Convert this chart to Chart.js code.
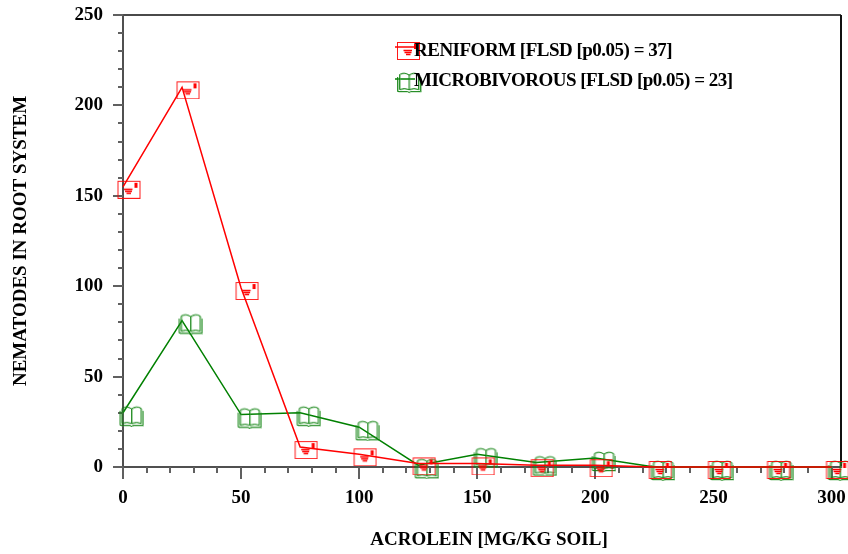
<!DOCTYPE html>
<html>
<head>
<meta charset="utf-8">
<script src="https://cdn.jsdelivr.net/npm/chart.js@4.4.0/dist/chart.umd.min.js"></script>
<style>
  html, body { margin: 0; padding: 0; background: #ffffff; }
  #wrap { width: 848px; height: 554px; position: relative; }
</style>
</head>
<body>
<div id="wrap"><canvas id="chart" width="848" height="554"></canvas></div>
<script>
// Acrolein dose (mg/kg soil) and nematode counts per root system
const acroleinDoses = [0, 25, 50, 75, 100, 125, 150, 175, 200, 225, 250, 275, 300];
const reniformCounts = [155, 210, 99, 11, 7, 2, 2, 1, 1, 0, 0, 0, 0];
const microbivorousCounts = [30, 81, 29, 30, 22, 1, 7, 2.5, 5, 0, 0, 0, 0];
const seriesNames = ['RENIFORM [FLSD [p0.05) = 37]', 'MICROBIVOROUS [FLSD [p0.05) = 23]'];
const xTickValues = [0, 50, 100, 150, 200, 250, 300];
const yTickValues = [0, 50, 100, 150, 200, 250];
const xAxisTitle = 'ACROLEIN [MG/KG SOIL]';
const yAxisTitle = 'NEMATODES IN ROOT SYSTEM';

const SERIF = "'Liberation Serif', 'Times New Roman', serif";

// Envelope glyph (23x18 box); the data point sits near its upper-left corner
function drawEnvelope(ctx, ox, oy) {
  ctx.save();
  ctx.strokeStyle = 'rgba(255,0,0,0.9)';
  ctx.lineWidth = 1;
  ctx.strokeRect(ox + 0.5, oy + 0.5, 22, 17);
  ctx.fillStyle = '#ff0000';
  ctx.fillRect(ox + 17, oy + 2, 3, 5);
  ctx.strokeStyle = '#ff0000';
  ctx.lineWidth = 1.3;
  ctx.beginPath();
  ctx.moveTo(ox + 6.5, oy + 8.5); ctx.lineTo(ox + 15, oy + 8.5);
  ctx.moveTo(ox + 7.5, oy + 10.5); ctx.lineTo(ox + 14.5, oy + 10.5);
  ctx.moveTo(ox + 9, oy + 12.5); ctx.lineTo(ox + 13.5, oy + 12.5);
  ctx.stroke();
  ctx.restore();
}

// Open-book glyph (24x21 box)
function bookPath(ctx, ox, oy) {
  ctx.beginPath();
  // cover
  ctx.moveTo(ox + 0.5, oy + 5);
  ctx.lineTo(ox + 0.5, oy + 19.5);
  ctx.lineTo(ox + 10.5, oy + 19.5);
  ctx.lineTo(ox + 12, oy + 20.5);
  ctx.lineTo(ox + 13.5, oy + 19.5);
  ctx.lineTo(ox + 23.5, oy + 19.5);
  ctx.lineTo(ox + 23.5, oy + 5);
  // left page
  ctx.moveTo(ox + 12, oy + 17.5);
  ctx.lineTo(ox + 12, oy + 3);
  ctx.quadraticCurveTo(ox + 7, oy - 0.5, ox + 2.5, oy + 2.5);
  ctx.lineTo(ox + 2.5, oy + 17.5);
  ctx.quadraticCurveTo(ox + 7, oy + 15.5, ox + 12, oy + 17.5);
  // right page
  ctx.moveTo(ox + 12, oy + 3);
  ctx.quadraticCurveTo(ox + 17, oy - 0.5, ox + 21.5, oy + 2.5);
  ctx.lineTo(ox + 21.5, oy + 17.5);
  ctx.quadraticCurveTo(ox + 17, oy + 15.5, ox + 12, oy + 17.5);
  ctx.stroke();
}
function drawBook(ctx, ox, oy) {
  ctx.save();
  ctx.lineWidth = 1;
  ctx.strokeStyle = 'rgba(70,170,70,0.5)';
  bookPath(ctx, ox + 1, oy + 0.5);
  ctx.strokeStyle = 'rgba(10,125,10,0.85)';
  bookPath(ctx, ox, oy);
  ctx.restore();
}

// Point-style canvases, centred on the data point
function makeEnvelopeStyle() {
  const c = document.createElement('canvas');
  c.width = 36; c.height = 24;
  drawEnvelope(c.getContext('2d'), 18 - 5.5, 12 - 6);
  return c;
}
function makeBookStyle() {
  const c = document.createElement('canvas');
  c.width = 42; c.height = 28;
  drawBook(c.getContext('2d'), 21 - 3.5, 14 - 7);
  return c;
}
const envelopeStyle = makeEnvelopeStyle();
const bookStyle = makeBookStyle();

const AREA = { left: 123, top: 15, right: 841, bottom: 467 };

// Keep the plot area fixed: drop the label overhang padding the scales ask for
function noOverhang(s) {
  s.paddingTop = 0; s.paddingBottom = 0; s.paddingLeft = 0; s.paddingRight = 0;
}

// Axes, frame, minor ticks, titles and legend
const decorations = {
  id: 'decorations',
  beforeDatasetsDraw(chart) {
    const ctx = chart.ctx;
    const xs = chart.scales.x, ys = chart.scales.y;
    const a = chart.chartArea;
    ctx.save();
    // frame
    ctx.lineWidth = 2;
    ctx.strokeStyle = '#4a4a4a';
    ctx.beginPath(); ctx.moveTo(a.left, a.top); ctx.lineTo(a.right, a.top); ctx.stroke();
    ctx.strokeStyle = '#111111';
    ctx.beginPath(); ctx.moveTo(a.right, a.top); ctx.lineTo(a.right, a.bottom); ctx.stroke();
    // axis lines
    ctx.strokeStyle = '#505050';
    ctx.beginPath(); ctx.moveTo(a.left, a.top - 1); ctx.lineTo(a.left, a.bottom + 1); ctx.stroke();
    ctx.beginPath(); ctx.moveTo(a.left - 1, a.bottom); ctx.lineTo(a.right + 1, a.bottom); ctx.stroke();
    // x ticks (outside, downward)
    ctx.strokeStyle = '#606060';
    ctx.lineWidth = 2;
    for (let v = 0; v <= 300; v += 10) {
      const px = Math.round(xs.getPixelForValue(v));
      const len = (v % 50 === 0) ? 12 : 6;
      ctx.beginPath(); ctx.moveTo(px, a.bottom); ctx.lineTo(px, a.bottom + len); ctx.stroke();
    }
    // y ticks (outside, leftward)
    for (let v = 0; v <= 250; v += 10) {
      const py = Math.round(ys.getPixelForValue(v));
      const len = (v % 50 === 0) ? 10 : 5;
      ctx.beginPath(); ctx.moveTo(a.left, py); ctx.lineTo(a.left - len, py); ctx.stroke();
    }
    ctx.restore();
  },
  afterDraw(chart) {
    const ctx = chart.ctx;
    ctx.save();
    ctx.fillStyle = '#000000';
    ctx.font = 'bold 19px ' + SERIF;
    ctx.textAlign = 'center';
    ctx.textBaseline = 'middle';
    ctx.fillText(xAxisTitle, 489, 540);
    ctx.save();
    ctx.translate(21, 241);
    ctx.rotate(-Math.PI / 2);
    ctx.fillText(yAxisTitle, 0, 0);
    ctx.restore();

    // legend
    const rows = [
      { y: 47, baseline: 56, color: '#ff0000', glyph: 'env', text: seriesNames[0] },
      { y: 79, baseline: 85.5, color: '#008000', glyph: 'book', text: seriesNames[1] }
    ];
    rows.forEach(r => {
      ctx.strokeStyle = r.color;
      ctx.lineWidth = 1.5;
      ctx.beginPath(); ctx.moveTo(395, r.y); ctx.lineTo(415, r.y); ctx.stroke();
      if (r.glyph === 'env') drawEnvelope(ctx, 397, r.y - 5);
      else drawBook(ctx, 397, r.y - 7);
      ctx.fillStyle = '#000000';
      ctx.textAlign = 'left';
      ctx.textBaseline = 'alphabetic';
      ctx.font = 'bold 19px ' + SERIF;
      if ('letterSpacing' in ctx) ctx.letterSpacing = '-0.5px';
      ctx.fillText(r.text, 414, r.baseline);
      if ('letterSpacing' in ctx) ctx.letterSpacing = '0px';
    });
    ctx.restore();
  }
};

const chart = new Chart(document.getElementById('chart'), {
  type: 'line',
  data: {
    datasets: [
      {
        label: seriesNames[0],
        data: acroleinDoses.map((x, i) => ({ x, y: reniformCounts[i] })),
        borderColor: '#ff0000',
        borderWidth: 1.5,
        pointStyle: envelopeStyle,
        pointRadius: 10,
        tension: 0,
        clip: false
      },
      {
        label: seriesNames[1],
        data: acroleinDoses.map((x, i) => ({ x, y: microbivorousCounts[i] })),
        borderColor: '#008000',
        borderWidth: 1.5,
        pointStyle: bookStyle,
        pointRadius: 10,
        tension: 0,
        clip: false
      }
    ]
  },
  options: {
    responsive: false,
    animation: false,
    devicePixelRatio: 1,
    layout: {
      autoPadding: false,
      padding: { top: AREA.top, right: 848 - AREA.right, left: 0, bottom: 0 }
    },
    plugins: { legend: { display: false }, tooltip: { enabled: false } },
    scales: {
      x: {
        type: 'linear',
        min: 0,
        max: 304,
        afterBuildTicks: s => { s.ticks = xTickValues.map(v => ({ value: v })); },
        afterFit: s => { s.height = 554 - AREA.bottom; noOverhang(s); },
        grid: { display: false, drawTicks: false },
        border: { display: false },
        ticks: {
          color: '#000000',
          font: { family: SERIF, size: 19, weight: 'bold' },
          padding: 20,
          maxRotation: 0,
          autoSkip: false
        }
      },
      y: {
        type: 'linear',
        min: 0,
        max: 250,
        afterBuildTicks: s => { s.ticks = yTickValues.map(v => ({ value: v })); },
        afterFit: s => { s.width = AREA.left; noOverhang(s); },
        grid: { display: false, drawTicks: false },
        border: { display: false },
        ticks: {
          color: '#000000',
          font: { family: SERIF, size: 19, weight: 'bold' },
          padding: 20,
          autoSkip: false
        }
      }
    }
  },
  plugins: [decorations]
});
</script>
</body>
</html>
